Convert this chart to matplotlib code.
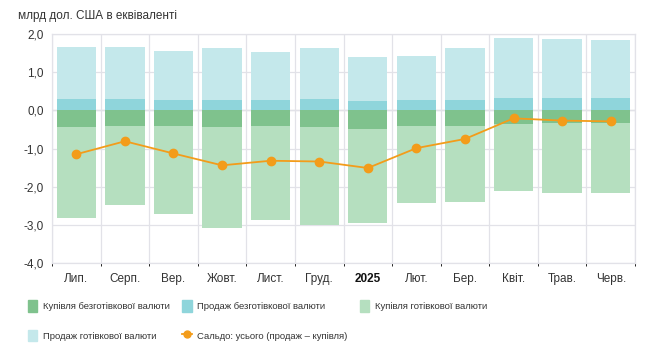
import matplotlib
matplotlib.use("Agg")
import matplotlib.pyplot as plt
from matplotlib.patches import Patch
from matplotlib.lines import Line2D
import numpy as np

plt.rcParams['font.family'] = ['Liberation Sans', 'DejaVu Sans']

months = ['Лип.', 'Серп.', 'Вер.', 'Жовт.', 'Лист.', 'Груд.', '2025',
          'Лют.', 'Бер.', 'Квіт.', 'Трав.', 'Черв.']

# billions USD equivalent
noncash_sale = [0.30, 0.29, 0.275, 0.275, 0.275, 0.30, 0.24, 0.26, 0.28, 0.32, 0.33, 0.33]
cash_sale = [1.36, 1.36, 1.285, 1.345, 1.255, 1.33, 1.15, 1.16, 1.34, 1.56, 1.53, 1.50]
noncash_buy = [0.43, 0.40, 0.40, 0.43, 0.42, 0.45, 0.48, 0.41, 0.40, 0.36, 0.33, 0.32]
cash_buy = [2.40, 2.08, 2.31, 2.65, 2.45, 2.54, 2.46, 2.01, 2.00, 1.76, 1.83, 1.84]
saldo = [-1.15, -0.81, -1.13, -1.44, -1.32, -1.34, -1.51, -0.99, -0.75, -0.21, -0.27, -0.29]

c_ncbuy = '#7fc28d'
c_ncsale = '#8fd5db'
c_cbuy = '#b5dfbf'
c_csale = '#c4e8eb'
c_line = '#f39c1a'

fig = plt.figure(figsize=(6.5, 3.64), dpi=100)
ax = fig.add_axes([0.08, 0.277, 0.897, 0.63])

x = np.arange(len(months))
w = 0.81
ncs = np.array(noncash_sale)
ncb = -np.array(noncash_buy)
ax.bar(x, ncs, w, color=c_ncsale, zorder=2)
ax.bar(x, cash_sale, w, bottom=ncs, color=c_csale, zorder=2)
ax.bar(x, ncb, w, color=c_ncbuy, zorder=2)
ax.bar(x, -np.array(cash_buy), w, bottom=ncb, color=c_cbuy, zorder=2)
ax.plot(x, saldo, color=c_line, lw=1.3, marker='o', ms=6, zorder=3)

ax.set_xlim(-0.5, len(months) - 0.5)
ax.set_ylim(-4, 2)
ax.set_yticks(np.arange(-4, 2.5, 1))
ax.set_yticklabels([f'{v:.1f}'.replace('.', ',') for v in np.arange(-4, 2.5, 1)],
                   fontsize=8.5, color='#333333')
ax.set_xticks(x)
ax.set_xticklabels(months, fontsize=8.5, color='#333333')
ax.get_xticklabels()[6].set_fontweight('bold')
ax.get_xticklabels()[6].set_color('#111111')
ax.tick_params(length=0, pad=7)
ax.tick_params(axis='y', pad=6)

ax.set_xticks(np.arange(-0.5, len(months), 1), minor=True)
ax.grid(which='minor', axis='x', color='#e2e2e8', lw=0.9, zorder=0)
ax.grid(which='major', axis='y', color='#e2e2e8', lw=0.9, zorder=0)
ax.axhline(0, color='#cfcfd4', lw=0.9, zorder=1)
for s in ax.spines.values():
    s.set_color('#e2e2e8')
    s.set_linewidth(0.9)

fig.text(0.028, 0.955, 'млрд дол. США в еквіваленті', fontsize=8.5,
         color='#333333', va='center')

handles = [Patch(color=c_ncbuy), Patch(color=c_ncsale), Patch(color=c_cbuy),
           Patch(color=c_csale),
           Line2D([0], [0], color=c_line, lw=1.3, marker='o', ms=5)]
labels = ['Купівля безготівкової валюти', 'Продаж безготівкової валюти',
          'Купівля готівкової валюти', 'Продаж готівкової валюти',
          'Сальдо: усього (продаж – купівля)']
order = [0, 3, 1, 4, 2]
leg = fig.legend([handles[i] for i in order], [labels[i] for i in order],
                 ncol=3, loc='upper left', bbox_to_anchor=(0.03, 0.198),
                 frameon=False, handlelength=1.0, handleheight=1.5,
                 handletextpad=0.6, columnspacing=1.3, labelspacing=1.9,
                 prop={'size': 6.8})
for t in leg.get_texts():
    t.set_color('#333333')

fig.savefig('out.png', dpi=100)
